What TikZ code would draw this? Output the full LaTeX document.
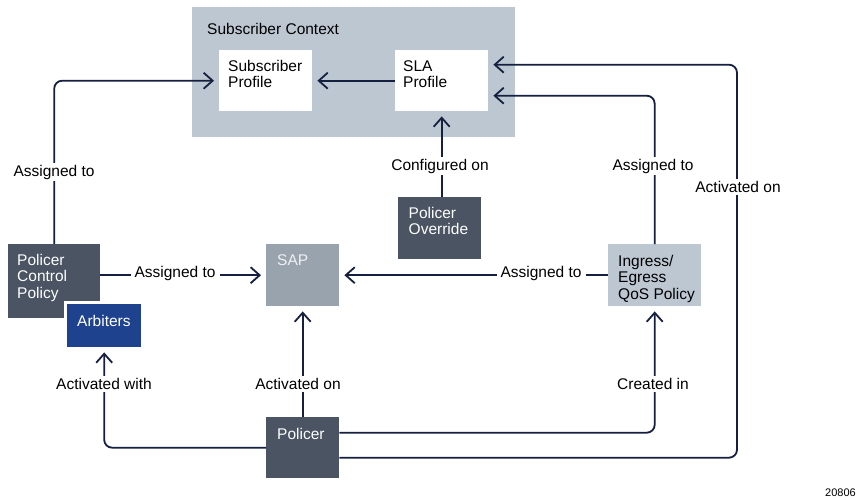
\documentclass[tikz,border=0pt]{standalone}
\usepackage{fontspec}
\setmainfont{Liberation Sans}
\usetikzlibrary{arrows.meta,calc}
\definecolor{ctxc}{HTML}{BDC7D2}
\definecolor{darkc}{HTML}{4A5462}
\definecolor{sapc}{HTML}{99A3AD}
\definecolor{arbc}{HTML}{1F428E}
\definecolor{linec}{HTML}{152040}
\newcommand{\lblfont}{\fontsize{15.5}{16.5}\selectfont}
\tikzset{
  box/.style={draw=none, inner sep=0pt, anchor=north west},
  txt/.style={anchor=north west, inner sep=0pt, align=left, font=\lblfont},
  lbl/.style={fill=white, inner xsep=4pt, inner ysep=2pt, font=\lblfont, text=black},
  conn/.style={line width=1.8pt, draw=linec, rounded corners=8pt, shorten >=5pt,
    -{Straight Barb[length=9pt,width=16pt,line width=1.8pt]}}
}
\begin{document}
\begin{tikzpicture}[x=1pt,y=-1pt]
\useasboundingbox (0,0) rectangle (857,499);
% boxes
\node[box, fill=ctxc, minimum width=323pt, minimum height=130pt] (ctx) at (192,7) {};
\node[txt] at ($(ctx.north west)+(15,16)$) {Subscriber Context};
\node[box, fill=white, minimum width=93pt, minimum height=61pt] (subp) at (219,50) {};
\node[txt] at ($(subp.north west)+(9,10)$) {Subscriber\\Profile};
\node[box, fill=white, minimum width=93pt, minimum height=61pt] (sla) at (395,50) {};
\node[txt] at ($(sla.north west)+(8,10)$) {SLA\\Profile};
\node[box, fill=darkc, minimum width=92pt, minimum height=74pt] (pcp) at (8,244) {};
\node[txt, text=white] at ($(pcp.north west)+(9,10)$) {Policer\\Control\\Policy};
\fill[white] (64,301) rectangle (141,347);
\node[box, fill=arbc, minimum width=74pt, minimum height=43pt] (arb) at (67,304) {};
\node[txt, text=white] at ($(arb.north west)+(10,11)$) {Arbiters};
\node[box, fill=sapc, minimum width=73pt, minimum height=62pt] (sap) at (266,244) {};
\node[txt, text=white!94!black] at ($(sap.north west)+(11,10)$) {SAP};
\node[box, fill=darkc, minimum width=83pt, minimum height=62pt] (pov) at (397.5,197) {};
\node[txt, text=white] at ($(pov.north west)+(11,10)$) {Policer\\Override};
\node[box, fill=ctxc, minimum width=93pt, minimum height=62pt] (ing) at (608,244) {};
\node[txt] at ($(ing.north west)+(10,11)$) {Ingress/\\Egress\\QoS Policy};
\node[box, fill=darkc, minimum width=73pt, minimum height=61pt] (pol) at (266,417) {};
\node[txt, text=white] at ($(pol.north west)+(11,11)$) {Policer};
% helper coordinates
\coordinate (slaup) at ($(sla.east)+(0,-16)$);
\coordinate (sladn) at ($(sla.east)+(0,15)$);
\coordinate (polup) at ($(pol.east)+(0,-15)$);
\coordinate (poldn) at ($(pol.east)+(0,10)$);
\coordinate (rt) at (737,0);
% connectors
\draw[conn] (sla.west) -- (subp.east);
\draw[conn] (pcp.north) |- (subp.west);
\draw[conn] (pcp.east |- sap.west) -- (sap.west);
\draw[conn] (ing.west) -- (sap.east);
\draw[conn] (sla.south |- pov.north) -- (sla.south);
\draw[conn] (ing.north) |- (sladn);
\draw[conn] (poldn) -| (rt |- slaup) -- (slaup);
\draw[conn] (pol.north) -- (sap.south);
\draw[conn] (pol.west) -| (arb.south);
\draw[conn] (polup) -| (ing.south);
% labels
\node[lbl] at (54,172) {Assigned to};
\node[lbl] at (175,273) {Assigned to};
\node[lbl] at (541,273) {Assigned to};
\node[lbl] at (440,166) {Configured on};
\node[lbl] at (653,166) {Assigned to};
\node[lbl] at (738,187) {Activated on};
\node[lbl] at (104,384) {Activated with};
\node[lbl] at (298,384) {Activated on};
\node[lbl] at (653,384) {Created in};
\node[anchor=east, inner sep=0pt, font=\fontsize{11}{11}\selectfont] at (856,493) {20806};
\end{tikzpicture}
\end{document}
